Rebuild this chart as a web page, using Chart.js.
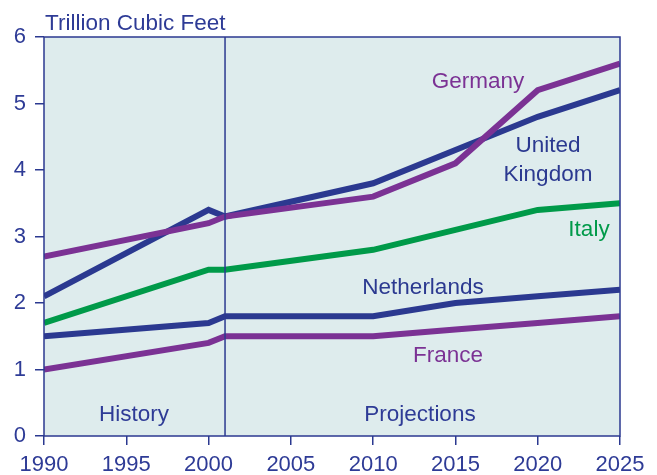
<!DOCTYPE html>
<html>
<head>
<meta charset="utf-8">
<script src="https://cdn.jsdelivr.net/npm/chart.js@4/dist/chart.umd.min.js"></script>
<style>
  html, body { margin: 0; padding: 0; background: #ffffff; }
  #wrap { width: 657px; height: 475px; }
</style>
</head>
<body>
<div id="wrap"><canvas id="gas"></canvas></div>
<script>
// Natural gas consumption, trillion cubic feet
const years = [1990, 2000, 2001, 2010, 2015, 2020, 2025];
const germany = [2.7, 3.2, 3.3, 3.6, 4.1, 5.2, 5.6];
const unitedKingdom = [2.1, 3.4, 3.3, 3.8, 4.3, 4.8, 5.2];
const italy = [1.7, 2.5, 2.5, 2.8, 3.1, 3.4, 3.5];
const netherlands = [1.5, 1.7, 1.8, 1.8, 2.0, 2.1, 2.2];
const france = [1.0, 1.4, 1.5, 1.5, 1.6, 1.7, 1.8];
const splitYear = 2001;

const NAVY = '#2b3990';
const PURPLE = '#7b3294';
const GREEN = '#009a49';
const TEXT = '#2e3b96';
const FONT = '"Liberation Sans", Arial, sans-serif';

const toPoints = vals => vals.map((v, i) => ({ x: years[i], y: v }));

const series = [
    { label: 'Germany', data: germany, color: PURPLE },
    { label: 'United Kingdom', data: unitedKingdom, color: NAVY },
    { label: 'Italy', data: italy, color: GREEN },
    { label: 'Netherlands', data: netherlands, color: NAVY },
    { label: 'France', data: france, color: PURPLE }
];

// text placed inside the plot: [text, x, baseline, colour, align]
const notes = [
    ['Germany', 478, 88, PURPLE, 'center'],
    ['United', 548, 152, NAVY, 'center'],
    ['Kingdom', 548, 181, NAVY, 'center'],
    ['Italy', 589, 236, GREEN, 'center'],
    ['Netherlands', 423, 294, NAVY, 'center'],
    ['France', 448, 362, PURPLE, 'center'],
    ['History', 134, 421, TEXT, 'center'],
    ['Projections', 420, 421, TEXT, 'center'],
    ['Trillion Cubic Feet', 45, 30, TEXT, 'left']
];

const frame = {
    id: 'frame',
    beforeDatasetsDraw(chart) {
        const { ctx, chartArea: a } = chart;
        ctx.save();
        ctx.fillStyle = '#deeced';
        ctx.fillRect(a.left, a.top, a.right - a.left, a.bottom - a.top);
        ctx.restore();
    },
    afterDatasetsDraw(chart) {
        const { ctx, chartArea: a, scales } = chart;
        ctx.save();
        // history / projections divider
        const sx = scales.x.getPixelForValue(splitYear);
        ctx.strokeStyle = NAVY;
        ctx.lineWidth = 1.5;
        ctx.beginPath();
        ctx.moveTo(sx, a.top);
        ctx.lineTo(sx, a.bottom);
        ctx.stroke();
        ctx.strokeRect(a.left, a.top, a.right - a.left, a.bottom - a.top);

        ctx.font = '22.5px ' + FONT;
        ctx.textBaseline = 'alphabetic';
        notes.forEach(([t, x, y, c, al]) => {
            ctx.fillStyle = c;
            ctx.textAlign = al;
            ctx.fillText(t, x, y);
        });
        ctx.restore();
    }
};

new Chart(document.getElementById('gas').getContext('2d'), {
    type: 'line',
    data: {
        datasets: series.map(s => ({
            label: s.label,
            data: toPoints(s.data),
            borderColor: s.color,
            backgroundColor: s.color,
            borderWidth: 6,
            pointRadius: 0,
            tension: 0,
            fill: false
        }))
    },
    options: {
        responsive: true,
        maintainAspectRatio: false,
        animation: false,
        layout: { padding: { top: 37, right: 37, left: 0, bottom: 0 } },
        plugins: { legend: { display: false }, tooltip: { enabled: false } },
        scales: {
            x: {
                type: 'linear',
                min: 1990, max: 2025,
                afterFit: s => { s.height = 39; },
                border: { display: false },
                grid: { drawOnChartArea: false, color: NAVY, tickLength: 9, lineWidth: 1.5 },
                ticks: {
                    stepSize: 5,
                    color: TEXT,
                    font: { family: FONT, size: 22 },
                    padding: 7,
                    maxRotation: 0,
                    callback: v => String(v)
                }
            },
            y: {
                min: 0, max: 6,
                afterFit: s => { s.width = 44; },
                border: { display: false },
                grid: { drawOnChartArea: false, color: NAVY, tickLength: 9, lineWidth: 1.5 },
                ticks: {
                    stepSize: 1,
                    color: TEXT,
                    font: { family: FONT, size: 22 },
                    padding: 9
                }
            }
        }
    },
    plugins: [frame]
});
</script>
</body>
</html>
